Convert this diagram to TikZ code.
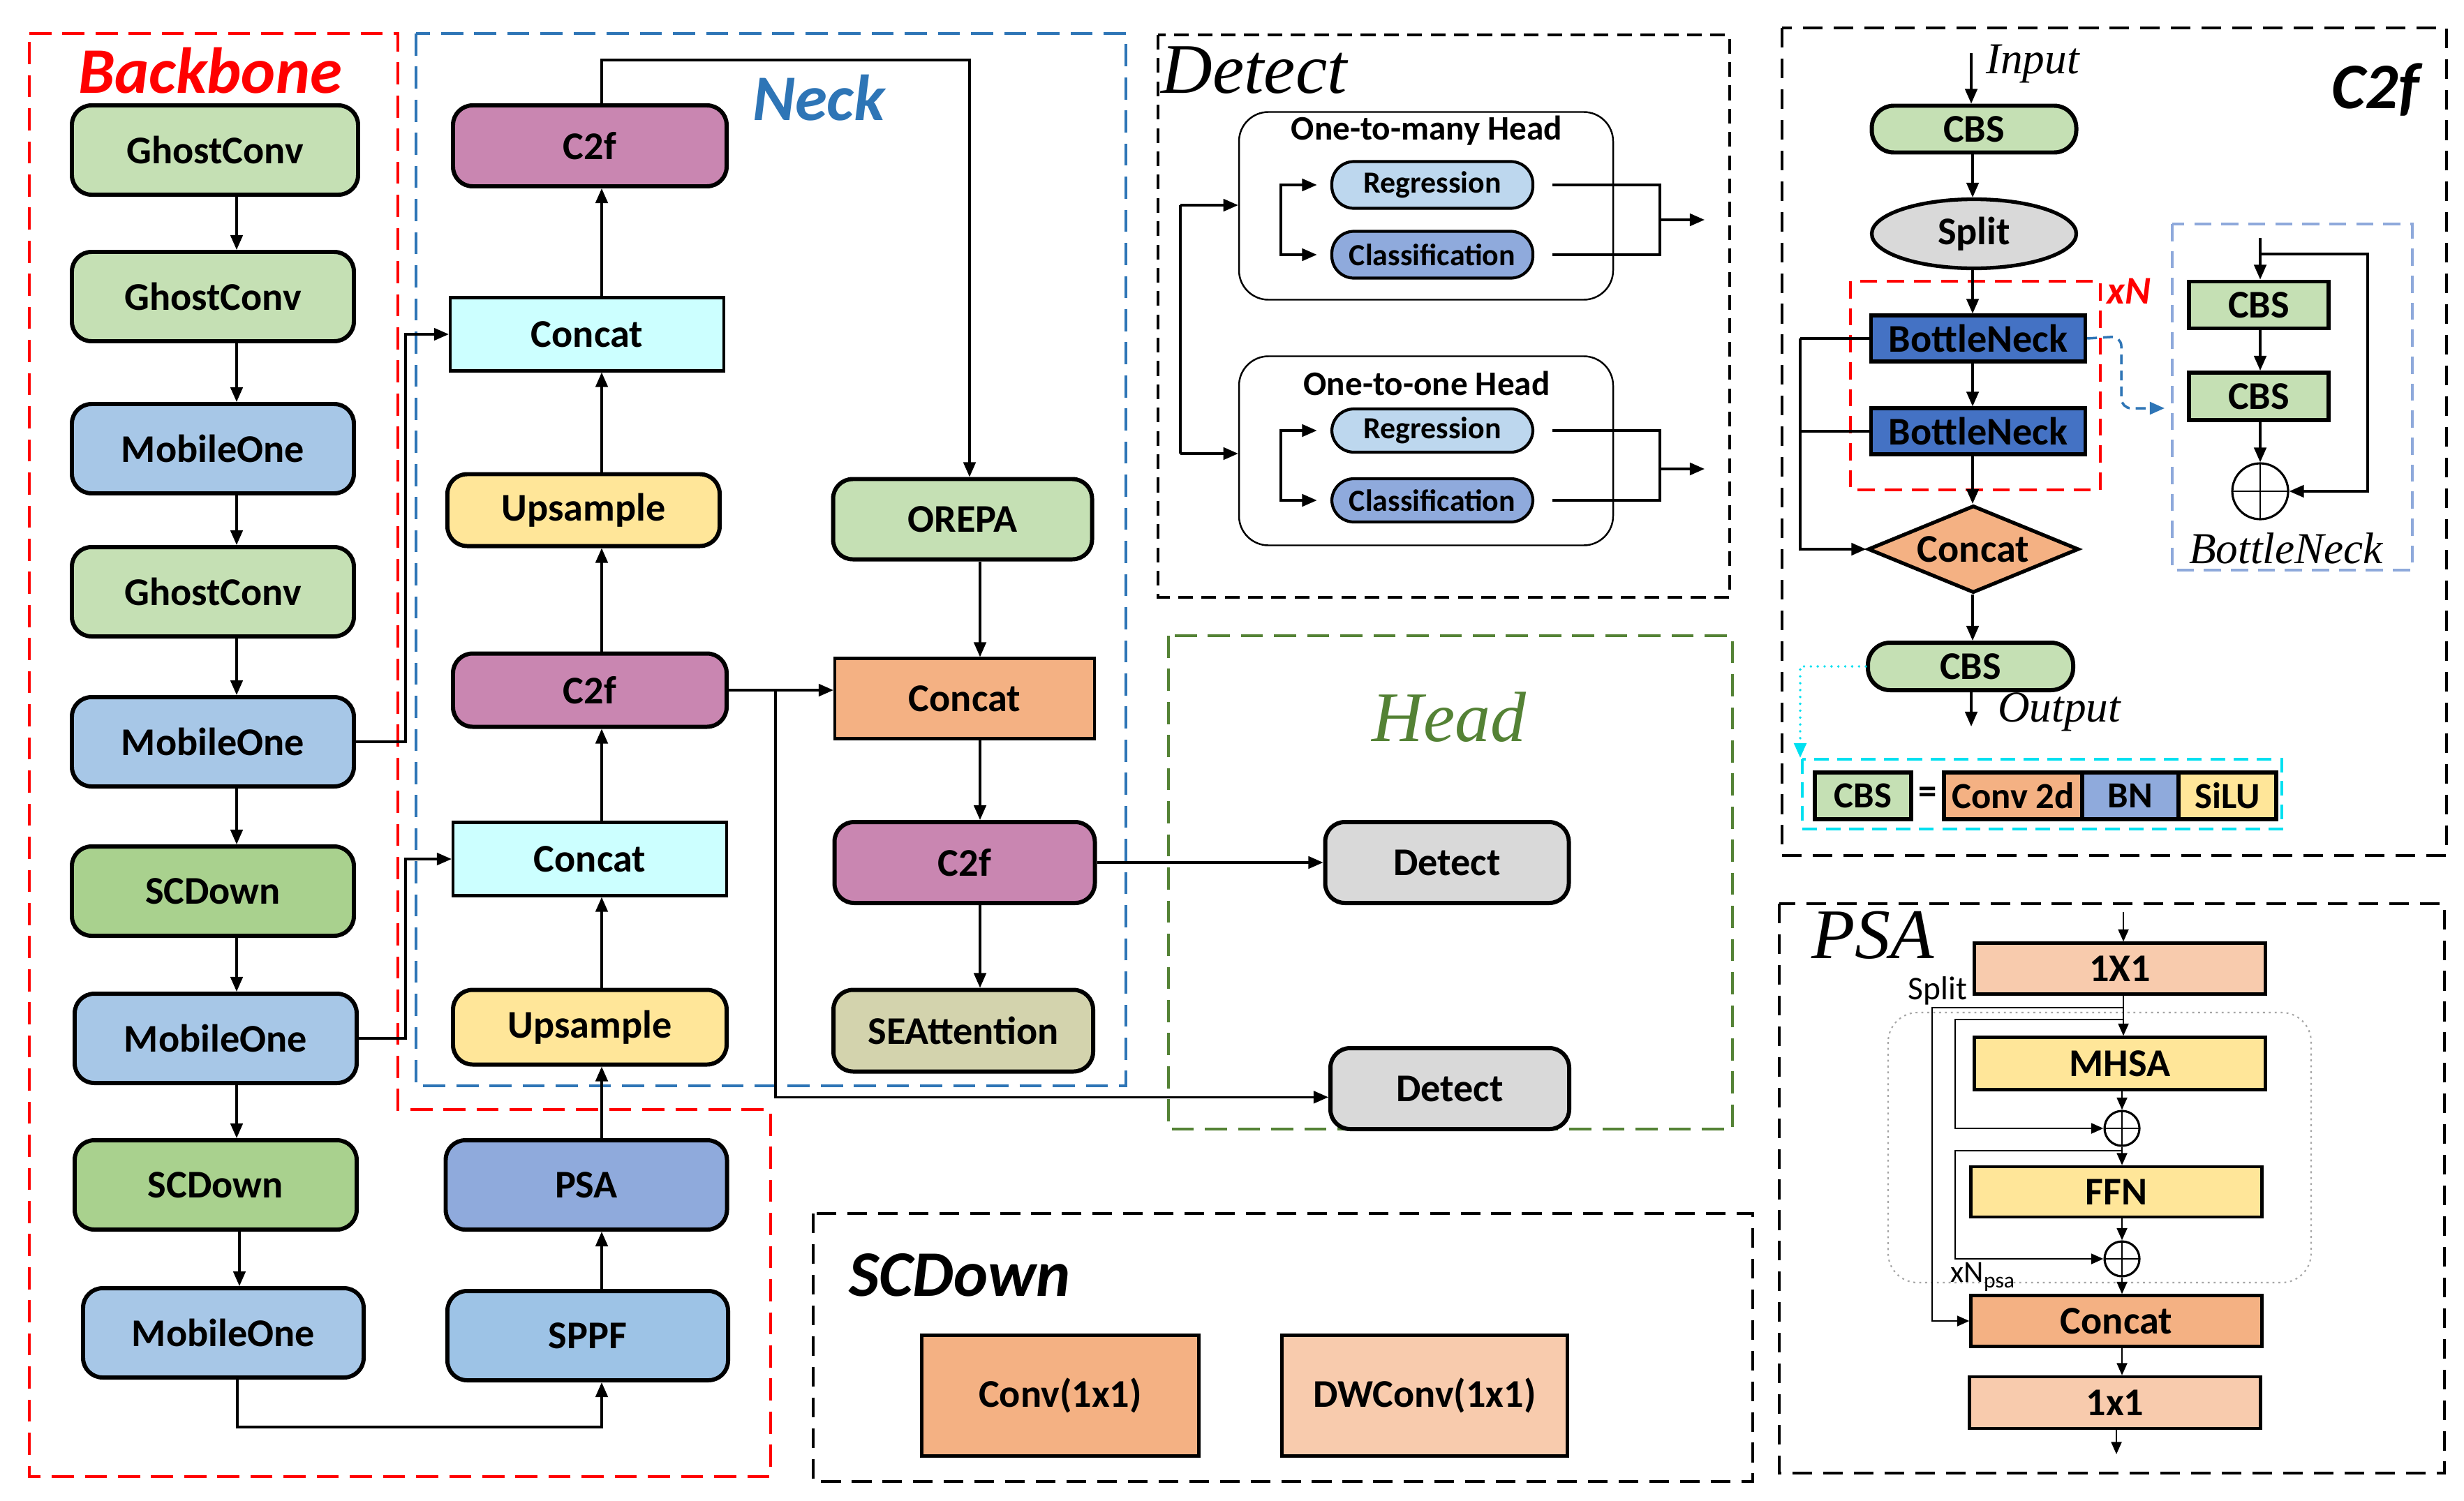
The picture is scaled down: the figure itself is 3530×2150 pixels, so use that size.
\documentclass[tikz,border=0pt]{standalone}
\usepackage{fontspec}
\setmainfont{Carlito}
\newfontfamily\tnr{Liberation Serif}
\usetikzlibrary{arrows.meta,shapes.geometric,calc}
\definecolor{cGreen}{HTML}{C5E0B4}
\definecolor{cMob}{HTML}{A7C7E7}
\definecolor{cSCD}{HTML}{A9D18E}
\definecolor{cPink}{HTML}{C986B1}
\definecolor{cCyan}{HTML}{CCFFFF}
\definecolor{cYel}{HTML}{FFE699}
\definecolor{cOra}{HTML}{F4B183}
\definecolor{cOraL}{HTML}{F8CBAD}
\definecolor{cKhaki}{HTML}{D3D3AD}
\definecolor{cPSA}{HTML}{8FAADC}
\definecolor{cSPPF}{HTML}{9DC3E6}
\definecolor{cGray}{HTML}{D9D9D9}
\definecolor{cReg}{HTML}{BDD7EE}
\definecolor{cBN}{HTML}{4472C4}
\definecolor{cRed}{HTML}{FF0000}
\definecolor{cBlueD}{HTML}{2E75B6}
\definecolor{cGreenD}{HTML}{548235}
\definecolor{cCyanL}{HTML}{00E0F0}
\definecolor{cBNbox}{HTML}{8EA9DB}
\newcommand\fLab{\bfseries\fontsize{16}{16}\selectfont}
\newcommand\fSmall{\bfseries\fontsize{12.5}{12.5}\selectfont}
\newcommand\fHead{\bfseries\fontsize{14}{14}\selectfont}
\newcommand\fTitle{\bfseries\itshape\fontsize{26.5}{26.5}\selectfont}
\newcommand\fSerif{\tnr\itshape\fontsize{29}{29}\selectfont}
\newcommand\fSerifS{\tnr\itshape\fontsize{18}{18}\selectfont}
\newcommand\fLeg{\bfseries\fontsize{15}{15}\selectfont}
\begin{document}
\begin{tikzpicture}[x=0.2845pt,y=-0.2845pt,
 wh/.style 2 args={minimum width=#1*0.2845pt, minimum height=#2*0.2845pt},
 rb/.style={draw, line width=1.7pt, rounded corners=8pt, inner sep=0pt, font=\fLab},
 sq/.style={draw, line width=1.2pt, inner sep=0pt, font=\fLab},
 pill/.style={draw, line width=1.2pt, rounded corners=9pt, inner sep=0pt, font=\fSmall},
 arr/.style={line width=0.9pt, -{Triangle[length=6pt,width=5pt]}},
 sarr/.style={line width=0.8pt, -{Triangle[length=5pt,width=4.2pt]}},
 ln/.style={line width=0.9pt},
 bxd/.style={line width=0.9pt, dash pattern=on 6pt off 3.5pt},
 plusn/.style={circle, draw, line width=0.9pt, fill=white, inner sep=0pt,
   path picture={\draw[line width=0.7pt] (path picture bounding box.north) -- (path picture bounding box.south)
   (path picture bounding box.west) -- (path picture bounding box.east);}}
]
\useasboundingbox (0,0) rectangle (3530,2150);
\fill[white] (0,0) rectangle (3530,2150);

% ---------- frames ----------
\draw[cRed, line width=1pt, dash pattern=on 9pt off 4.5pt]
  (42,48) -- (570,48) -- (570,1590) -- (1104,1590) -- (1104,2116) -- (42,2116) -- cycle;
\draw[cBlueD, line width=1pt, dash pattern=on 9pt off 4.5pt] (596,48) rectangle (1613,1556);
\draw[bxd] (1659,50) rectangle (2478,856);
\draw[cGreenD, line width=1pt, dash pattern=on 9pt off 4.5pt] (1674,911) rectangle (2482,1618);
\draw[bxd, dash pattern=on 8pt off 4.5pt] (1165,1739) rectangle (2511,2123);
\draw[bxd, dash pattern=on 8pt off 4.5pt] (2553,40) rectangle (3505,1226);
\draw[bxd, dash pattern=on 8pt off 4.5pt] (2549,1295) rectangle (3502,2111);

% ---------- titles ----------
\node[font=\fTitle, text=cRed, anchor=base] (tbb) at (301,133) {Backbone};
\node[font=\fTitle, text=cBlueD, anchor=base] (tneck) at (1173,172) {Neck};
\node[font=\fSerif, anchor=base west, inner sep=0pt] (tdet) at (1663,133) {Detect};
\node[font=\fSerif, text=cGreenD, anchor=base] (thead) at (2076,1062) {Head};
\node[font=\fTitle, anchor=base] (tc2f) at (3403,155) {C2f};
\node[font=\fSerif, anchor=base] (tpsa) at (2683,1373) {PSA};
\node[font=\fTitle, anchor=base] (tscd) at (1375,1857) {SCDown};

% ---------- backbone ----------
\node[rb, fill=cGreen, wh={410}{128}] (gc1) at (308,215) {GhostConv};
\node[rb, fill=cGreen, wh={404}{128}] (gc2) at (305,425) {GhostConv};
\node[rb, fill=cMob, wh={404}{128}] (mo1) at (305,643) {MobileOne};
\node[rb, fill=cGreen, wh={404}{128}] (gc3) at (305,848) {GhostConv};
\node[rb, fill=cMob, wh={404}{128}] (mo2) at (305,1063) {MobileOne};
\node[rb, fill=cSCD, wh={404}{128}] (sc1) at (305,1277) {SCDown};
\node[rb, fill=cMob, wh={404}{128}] (mo3) at (309,1488) {MobileOne};
\node[rb, fill=cSCD, wh={404}{128}] (sc2) at (309,1698) {SCDown};
\node[rb, fill=cMob, wh={402}{128}] (mo4) at (320,1910) {MobileOne};
\node[rb, fill=cSPPF, wh={402}{128}] (sppf) at (842,1914) {SPPF};
\node[rb, fill=cPSA, wh={403}{128}] (psa) at (840,1698) {PSA};

% ---------- neck ----------
\node[rb, fill=cPink, wh={392}{116}] (c2ft) at (845,209) {C2f};
\node[sq, fill=cCyan, wh={392}{105}] (cct) at (841,479) {Concat};
\node[rb, fill=cYel, wh={390}{103}] (upt) at (836,731) {Upsample};
\node[rb, fill=cPink, wh={392}{105}] (c2fm) at (845,989) {C2f};
\node[sq, fill=cCyan, wh={392}{105}] (ccl) at (845,1231) {Concat};
\node[rb, fill=cYel, wh={392}{107}] (upl) at (845,1472) {Upsample};
\node[rb, fill=cGreen, wh={371}{115}] (orepa) at (1379,744) {OREPA};
\node[sq, fill=cOra, wh={372}{115}] (cco) at (1382,1001) {Concat};
\node[rb, fill=cPink, wh={373}{116}] (c2fr) at (1382,1236) {C2f};
\node[rb, fill=cKhaki, wh={372}{117}] (sea) at (1380,1477) {SEAttention};

% ---------- head ----------
\node[rb, fill=cGray, wh={349}{116}] (det1) at (2073,1236) {Detect};
\node[rb, fill=cGray, wh={342}{116}] (det2) at (2077,1560) {Detect};

% ---------- backbone / neck connectors ----------
\coordinate (ax) at (339,0);
\coordinate (ax2) at (343,0);
\draw[arr] (gc1.south -| ax) -- (gc2.north -| ax);
\draw[arr] (gc2.south -| ax) -- (mo1.north -| ax);
\draw[arr] (mo1.south -| ax) -- (gc3.north -| ax);
\draw[arr] (gc3.south -| ax) -- (mo2.north -| ax);
\draw[arr] (mo2.south -| ax) -- (sc1.north -| ax);
\draw[arr] (sc1.south -| ax) -- (mo3.north -| ax);
\draw[arr] (mo3.south -| ax) -- (sc2.north -| ax);
\draw[arr] (sc2.south -| ax2) -- (mo4.north -| ax2);
\coordinate (bl) at (340,2045);
\coordinate (nx) at (862,0);
\draw[arr] (mo4.south -| bl) -- (bl) -| (sppf.south -| nx);
\draw[arr] (sppf.north -| nx) -- (psa.south -| nx);
\draw[arr] (psa.north -| nx) -- (upl.south -| nx);
\draw[arr] (upl.north -| nx) -- (ccl.south -| nx);
\draw[arr] (ccl.north -| nx) -- (c2fm.south -| nx);
\draw[arr] (c2fm.north -| nx) -- (upt.south -| nx);
\draw[arr] (upt.north -| nx) -- (cct.south -| nx);
\draw[arr] (cct.north -| nx) -- (c2ft.south -| nx);
\coordinate (tl) at (862,86);
\coordinate (tr) at (1389,86);
\draw[arr] (c2ft.north -| nx) -- (tl) -- (tr) -- (orepa.north -| tr);
\coordinate (bx) at (581,0);
\draw[arr] (mo2.east) -- (mo2.east -| bx) |- (cct.west);
\draw[arr] (mo3.east) -- (mo3.east -| bx) |- (ccl.west);
\coordinate (rx) at (1404,0);
\draw[arr] (orepa.south -| rx) -- (cco.north -| rx);
\draw[arr] (cco.south -| rx) -- (c2fr.north -| rx);
\draw[arr] (c2fr.south -| rx) -- (sea.north -| rx);
\draw[arr] (c2fm.east) -- (c2fm.east -| cco.west);
\coordinate (brx) at (1111,0);
\draw[arr] (c2fm.east -| brx) |- ([yshift=-3.5pt]det2.west);
\draw[arr] (c2fr.east) -- (det1.west);

% ---------- Detect detail ----------
\node[draw, line width=0.7pt, rounded corners=12pt, wh={536}{269}] (o2m) at (2043,295) {};
\node[draw, line width=0.7pt, rounded corners=12pt, wh={536}{271}] (o2o) at (2043,646) {};
\node[font=\fHead] (h1) at (2044,187) {One-to-many Head};
\node[font=\fHead] (h2) at (2044,549) {One-to-one Head};
\node[pill, fill=cReg, wh={288}{67}] (reg1) at (2052,265) {Regression};
\node[pill, fill=cPSA, wh={288}{67}] (cls1) at (2052,365) {Classification};
\node[pill, fill=cReg, wh={288}{62}] (reg2) at (2052,617) {Regression};
\node[pill, fill=cPSA, wh={288}{62}] (cls2) at (2052,717) {Classification};
\coordinate (dl1) at (1691,294);
\coordinate (dl2) at (1691,650);
\draw[ln] (dl1) -- (dl2);
\draw[arr] (dl1) -- (dl1 -| o2m.west);
\draw[arr] (dl2) -- (dl2 -| o2o.west);
\coordinate (ib1) at (1835,315);
\coordinate (ib2) at (1835,667);
\draw[arr, shorten >=5.5pt] (ib1) |- (reg1.west);
\draw[arr, shorten >=5.5pt] (ib1) |- (cls1.west);
\draw[arr, shorten >=5.5pt] (ib2) |- (reg2.west);
\draw[arr, shorten >=5.5pt] (ib2) |- (cls2.west);
\coordinate (ob1) at (2378,315);
\coordinate (ob2) at (2378,672);
\draw[ln] ([xshift=7.4pt]reg1.east) -- (reg1.east -| ob1) -- (cls1.east -| ob1) -- ([xshift=7.4pt]cls1.east);
\draw[ln] ([xshift=7.4pt]reg2.east) -- (reg2.east -| ob2) -- (cls2.east -| ob2) -- ([xshift=7.4pt]cls2.east);
\draw[arr] (ob1) -- ++(64,0);
\draw[arr] (ob2) -- ++(64,0);

% ---------- SCDown detail ----------
\node[sq, line width=1.6pt, fill=cOra, wh={397}{173}] (conv) at (1519,2000) {Conv(1x1)};
\node[sq, line width=1.6pt, fill=cOraL, wh={409}{173}] (dwconv) at (2041,2000) {DWConv(1x1)};

% ---------- C2f detail ----------
\node[pill, font=\fLab, line width=1.7pt, fill=cGreen, wh={293}{67}] (cbs1) at (2828,185) {CBS};
\node[ellipse, draw, line width=1.5pt, fill=cGray, inner sep=0pt, font=\fLab, wh={293}{99}] (split) at (2828,335) {Split};
\draw[cRed, line width=1pt, dash pattern=on 7pt off 4pt] (2651,403) rectangle (3009,702);
\node[font=\bfseries\itshape\fontsize{16}{16}\selectfont, text=cRed] (xn) at (3050,417) {xN};
\node[sq, line width=1.5pt, fill=cBN, wh={307}{66}] (bn1) at (2834,485) {BottleNeck};
\node[sq, line width=1.5pt, fill=cBN, wh={307}{66}] (bn2) at (2834,618) {BottleNeck};
\node[diamond, draw, line width=1.5pt, fill=cOra, aspect=2.4, inner sep=0pt, font=\fLab,
  minimum width=302*0.2845pt, minimum height=125*0.2845pt] (cc2) at (2827,787) {Concat};
\node[pill, font=\fLab, line width=1.7pt, fill=cGreen, wh={294}{68}] (cbs2) at (2823,955) {CBS};
\coordinate (cx) at (2826,0);
\coordinate (inp) at (2824,76);
\coordinate (outp) at (2824,1041);
\draw[arr] (inp) -- (cbs1.north -| inp);
\node[font=\fSerifS] (tin) at (2912,92) {Input};
\draw[arr] (cbs1.south -| cx) -- (split.north -| cx);
\draw[arr] (split.south -| cx) -- (bn1.north -| cx);
\draw[arr] (bn1.south -| cx) -- (bn2.north -| cx);
\draw[arr] (bn2.south -| cx) -- (cc2.north -| cx);
\draw[arr] (cc2.south -| cx) -- (cbs2.north -| cx);
\draw[arr] (cbs2.south -| outp) -- (outp);
\node[font=\fSerifS] (tout) at (2950,1020) {Output};
\coordinate (lx) at (2579,0);
\draw[ln] (bn1.west) -- (bn1.west -| lx);
\draw[ln] (bn2.west) -- (bn2.west -| lx);
\draw[arr] (bn1.west -| lx) |- (cc2.west);
\draw[cBlueD, line width=1pt, dash pattern=on 4pt off 2.5pt, rounded corners=4pt,
  -{Triangle[length=6pt,width=5pt]}] (bn1.east) -- (3039,482) -- (3039,585) -- (3101,585);
% bottleneck box
\draw[cBNbox, line width=1pt, dash pattern=on 7pt off 4pt] (3112,321) rectangle (3456,817);
\node[sq, line width=1.7pt, fill=cGreen, wh={200}{67}] (bcbs1) at (3236,437) {CBS};
\node[sq, line width=1.7pt, fill=cGreen, wh={200}{68}] (bcbs2) at (3236,568) {CBS};
\node[plusn, minimum size=80*0.2845pt] (bplus) at (3238,704) {};
\coordinate (bin) at (3238,341);
\coordinate (bsk) at (3238,364);
\coordinate (bsr) at (3392,364);
\draw[arr] (bin) -- (bcbs1.north -| bin);
\draw[arr] (bsk) -- (bsr) |- (bplus.east);
\draw[arr] (bcbs1.south -| bin) -- (bcbs2.north -| bin);
\draw[arr] (bcbs2.south -| bplus) -- (bplus.north);
\node[font=\fSerifS] (tbn) at (3275,786) {BottleNeck};
% legend
\draw[cCyanL, line width=1.1pt, dash pattern=on 0pt off 2.8pt, line cap=round,
  -{Triangle[length=6pt,width=5pt]}] (cbs2.west) -- (cbs2.west -| lx) -- (2579,1086);
\draw[cCyanL, line width=1pt, dash pattern=on 6pt off 3.5pt] (2582,1088) rectangle (3269,1188);
\node[sq, line width=1.7pt, fill=cGreen, wh={138}{67}, font=\fLeg] (lcbs) at (2669,1140) {CBS};
\node[font=\fLeg] (leq) at (2762,1140) {=};
\node[sq, line width=1.7pt, fill=cOra, wh={199}{67}, font=\fLeg] (lconv) at (2884,1140) {Conv 2d};
\node[sq, line width=1.7pt, fill=cPSA, wh={138}{67}, font=\fLeg] (lbn) at (3052,1140) {BN};
\node[sq, line width=1.7pt, fill=cYel, wh={140}{67}, font=\fLeg] (lsilu) at (3191,1140) {SiLU};

% ---------- PSA detail ----------
\draw[gray!70, line width=0.6pt, dash pattern=on 0.8pt off 1.6pt, rounded corners=12pt] (2705,1451) rectangle (3311,1838);
\node[sq, fill=cOraL, wh={417}{73}] (p1) at (3037,1388) {1X1};
\node[sq, fill=cYel, wh={417}{75}] (mhsa) at (3037,1524) {MHSA};
\node[plusn, minimum size=50*0.2845pt] (pl1) at (3040,1617) {};
\node[sq, fill=cYel, wh={417}{72}] (ffn) at (3032,1708) {FFN};
\node[plusn, minimum size=50*0.2845pt] (pl2) at (3040,1804) {};
\node[sq, fill=cOra, wh={417}{73}] (pcc) at (3032,1893) {Concat};
\node[sq, fill=cOraL, wh={417}{74}] (p2) at (3030,2010) {1x1};
\coordinate (px) at (3042,0);
\coordinate (pin) at (3042,1307);
\draw[sarr] (pin) -- (p1.north -| pin);
\draw[sarr] (p1.south -| px) -- (mhsa.north -| px);
\coordinate (s1) at (3042,1444);
\coordinate (s1l) at (2768,1444);
\draw[sarr] (s1) -- (s1l) |- (pcc.west);
\coordinate (s2) at (3042,1461);
\coordinate (s2l) at (2801,1461);
\draw[sarr] (s2) -- (s2l) |- (pl1.west);
\draw[sarr] (mhsa.south -| pl1) -- (pl1.north);
\draw[sarr] (pl1.south) -- (ffn.north -| pl1);
\coordinate (s3) at (3040,1649);
\coordinate (s3l) at (2801,1649);
\draw[sarr] (s3) -- (s3l) |- (pl2.west);
\draw[sarr] (ffn.south -| pl2) -- (pl2.north);
\draw[sarr] (pl2.south) -- (pcc.north -| pl2);
\draw[sarr] (pcc.south -| pl2) -- (p2.north -| pl2);
\coordinate (pout) at (3032,2084);
\draw[sarr] (p2.south -| pout) -- (pout);
\node[font=\fontsize{13.5}{13.5}\selectfont] (tsplit) at (2776,1420) {Split};
\node[font=\fontsize{12.5}{12.5}\selectfont, anchor=west, inner sep=0pt] (txn) at (2794,1830) {xN\raisebox{-0.35ex}{\fontsize{9}{9}\selectfont psa}};
\end{tikzpicture}
\end{document}
